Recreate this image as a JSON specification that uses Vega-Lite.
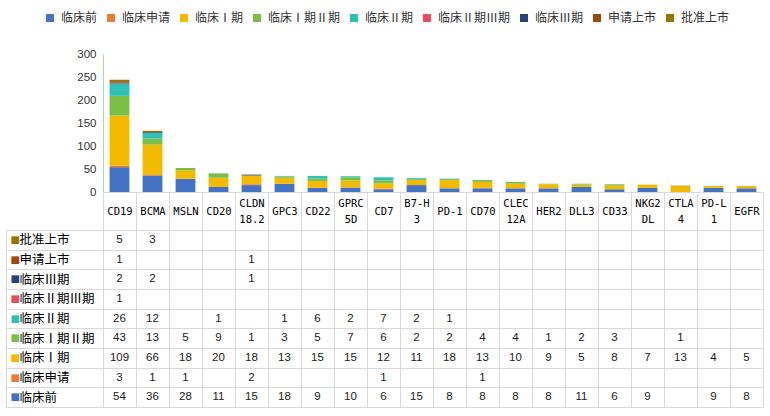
{
  "$schema": "https://vega.github.io/schema/vega-lite/v6.json",
  "background": "white",
  "padding": {"left": 5, "top": 12, "right": 5, "bottom": 5},
  "datasets": {
    "cells": [
      {"target": "CD19", "stage": "临床前", "count": 54},
      {"target": "CD19", "stage": "临床申请", "count": 3},
      {"target": "CD19", "stage": "临床Ⅰ期", "count": 109},
      {"target": "CD19", "stage": "临床Ⅰ期Ⅱ期", "count": 43},
      {"target": "CD19", "stage": "临床Ⅱ期", "count": 26},
      {"target": "CD19", "stage": "临床Ⅱ期Ⅲ期", "count": 1},
      {"target": "CD19", "stage": "临床Ⅲ期", "count": 2},
      {"target": "CD19", "stage": "申请上市", "count": 1},
      {"target": "CD19", "stage": "批准上市", "count": 5},
      {"target": "BCMA", "stage": "临床前", "count": 36},
      {"target": "BCMA", "stage": "临床申请", "count": 1},
      {"target": "BCMA", "stage": "临床Ⅰ期", "count": 66},
      {"target": "BCMA", "stage": "临床Ⅰ期Ⅱ期", "count": 13},
      {"target": "BCMA", "stage": "临床Ⅱ期", "count": 12},
      {"target": "BCMA", "stage": "临床Ⅲ期", "count": 2},
      {"target": "BCMA", "stage": "批准上市", "count": 3},
      {"target": "MSLN", "stage": "临床前", "count": 28},
      {"target": "MSLN", "stage": "临床申请", "count": 1},
      {"target": "MSLN", "stage": "临床Ⅰ期", "count": 18},
      {"target": "MSLN", "stage": "临床Ⅰ期Ⅱ期", "count": 5},
      {"target": "CD20", "stage": "临床前", "count": 11},
      {"target": "CD20", "stage": "临床Ⅰ期", "count": 20},
      {"target": "CD20", "stage": "临床Ⅰ期Ⅱ期", "count": 9},
      {"target": "CD20", "stage": "临床Ⅱ期", "count": 1},
      {"target": "CLDN18.2", "stage": "临床前", "count": 15},
      {"target": "CLDN18.2", "stage": "临床申请", "count": 2},
      {"target": "CLDN18.2", "stage": "临床Ⅰ期", "count": 18},
      {"target": "CLDN18.2", "stage": "临床Ⅰ期Ⅱ期", "count": 1},
      {"target": "CLDN18.2", "stage": "临床Ⅲ期", "count": 1},
      {"target": "CLDN18.2", "stage": "申请上市", "count": 1},
      {"target": "GPC3", "stage": "临床前", "count": 18},
      {"target": "GPC3", "stage": "临床Ⅰ期", "count": 13},
      {"target": "GPC3", "stage": "临床Ⅰ期Ⅱ期", "count": 3},
      {"target": "GPC3", "stage": "临床Ⅱ期", "count": 1},
      {"target": "CD22", "stage": "临床前", "count": 9},
      {"target": "CD22", "stage": "临床Ⅰ期", "count": 15},
      {"target": "CD22", "stage": "临床Ⅰ期Ⅱ期", "count": 5},
      {"target": "CD22", "stage": "临床Ⅱ期", "count": 6},
      {"target": "GPRC5D", "stage": "临床前", "count": 10},
      {"target": "GPRC5D", "stage": "临床Ⅰ期", "count": 15},
      {"target": "GPRC5D", "stage": "临床Ⅰ期Ⅱ期", "count": 7},
      {"target": "GPRC5D", "stage": "临床Ⅱ期", "count": 2},
      {"target": "CD7", "stage": "临床前", "count": 6},
      {"target": "CD7", "stage": "临床申请", "count": 1},
      {"target": "CD7", "stage": "临床Ⅰ期", "count": 12},
      {"target": "CD7", "stage": "临床Ⅰ期Ⅱ期", "count": 6},
      {"target": "CD7", "stage": "临床Ⅱ期", "count": 7},
      {"target": "B7-H3", "stage": "临床前", "count": 15},
      {"target": "B7-H3", "stage": "临床Ⅰ期", "count": 11},
      {"target": "B7-H3", "stage": "临床Ⅰ期Ⅱ期", "count": 2},
      {"target": "B7-H3", "stage": "临床Ⅱ期", "count": 2},
      {"target": "PD-1", "stage": "临床前", "count": 8},
      {"target": "PD-1", "stage": "临床Ⅰ期", "count": 18},
      {"target": "PD-1", "stage": "临床Ⅰ期Ⅱ期", "count": 2},
      {"target": "PD-1", "stage": "临床Ⅱ期", "count": 1},
      {"target": "CD70", "stage": "临床前", "count": 8},
      {"target": "CD70", "stage": "临床申请", "count": 1},
      {"target": "CD70", "stage": "临床Ⅰ期", "count": 13},
      {"target": "CD70", "stage": "临床Ⅰ期Ⅱ期", "count": 4},
      {"target": "CLEC12A", "stage": "临床前", "count": 8},
      {"target": "CLEC12A", "stage": "临床Ⅰ期", "count": 10},
      {"target": "CLEC12A", "stage": "临床Ⅰ期Ⅱ期", "count": 4},
      {"target": "HER2", "stage": "临床前", "count": 8},
      {"target": "HER2", "stage": "临床Ⅰ期", "count": 9},
      {"target": "HER2", "stage": "临床Ⅰ期Ⅱ期", "count": 1},
      {"target": "DLL3", "stage": "临床前", "count": 11},
      {"target": "DLL3", "stage": "临床Ⅰ期", "count": 5},
      {"target": "DLL3", "stage": "临床Ⅰ期Ⅱ期", "count": 2},
      {"target": "CD33", "stage": "临床前", "count": 6},
      {"target": "CD33", "stage": "临床Ⅰ期", "count": 8},
      {"target": "CD33", "stage": "临床Ⅰ期Ⅱ期", "count": 3},
      {"target": "NKG2DL", "stage": "临床前", "count": 9},
      {"target": "NKG2DL", "stage": "临床Ⅰ期", "count": 7},
      {"target": "CTLA4", "stage": "临床Ⅰ期", "count": 13},
      {"target": "CTLA4", "stage": "临床Ⅰ期Ⅱ期", "count": 1},
      {"target": "PD-L1", "stage": "临床前", "count": 9},
      {"target": "PD-L1", "stage": "临床Ⅰ期", "count": 4},
      {"target": "EGFR", "stage": "临床前", "count": 8},
      {"target": "EGFR", "stage": "临床Ⅰ期", "count": 5}
    ]
  },
  "bounds": "flush",
  "spacing": 38,
  "resolve": {"scale": {"x": "independent", "y": "independent"}},
  "vconcat": [
    {
      "width": 660,
      "height": 138,
      "data": {"name": "cells"},
      "transform": [
        {"calculate": "indexof(['临床前','临床申请','临床Ⅰ期','临床Ⅰ期Ⅱ期','临床Ⅱ期','临床Ⅱ期Ⅲ期','临床Ⅲ期','申请上市','批准上市'], datum.stage)", "as": "k"}
      ],
      "mark": {"type": "bar"},
      "encoding": {
        "x": {
          "field": "target", "type": "nominal",
          "sort": ["CD19","BCMA","MSLN","CD20","CLDN18.2","GPC3","CD22","GPRC5D","CD7","B7-H3","PD-1","CD70","CLEC12A","HER2","DLL3","CD33","NKG2DL","CTLA4","PD-L1","EGFR"],
          "scale": {"paddingInner": 0.4, "paddingOuter": 0.2},
          "axis": {"title": null, "labels": false, "ticks": false, "grid": false, "domainColor": "#d9d9d9"}
        },
        "y": {
          "field": "count", "type": "quantitative",
          "scale": {"domain": [0, 300], "nice": false},
          "axis": {
            "title": null, "values": [0, 50, 100, 150, 200, 250, 300],
            "ticks": false, "grid": false, "domainColor": "#a8dca0",
            "labelFont": "Liberation Sans", "labelFontSize": 11.5, "labelColor": "#333", "labelPadding": 7
          }
        },
        "color": {
          "field": "stage", "type": "nominal",
          "sort": ["临床前","临床申请","临床Ⅰ期","临床Ⅰ期Ⅱ期","临床Ⅱ期","临床Ⅱ期Ⅲ期","临床Ⅲ期","申请上市","批准上市"],
          "scale": {
            "domain": ["临床前","临床申请","临床Ⅰ期","临床Ⅰ期Ⅱ期","临床Ⅱ期","临床Ⅱ期Ⅲ期","临床Ⅲ期","申请上市","批准上市"],
            "range": ["#4472C4","#ED7D31","#F4BA00","#7BBF45","#2EC2B4","#EA4C5E","#264478","#9E480E","#997300"]
          },
          "legend": {
            "orient": "none", "direction": "horizontal", "legendX": -59, "legendY": -42,
            "title": null, "symbolType": "square", "symbolSize": 64, "symbolStrokeWidth": 0,
            "labelFont": "Noto Sans CJK SC", "labelFontSize": 12, "labelColor": "#333",
            "columnPadding": 7, "labelOffset": 5
          }
        },
        "order": {"field": "k", "type": "quantitative"}
      }
    },
    {
      "width": 660,
      "height": 177,
      "view": {"stroke": "#d9d9d9"},
      "data": {"name": "cells"},
      "layer": [
        {
          "mark": {"type": "text", "font": "Liberation Sans", "fontSize": 11.5, "color": "#1a1a1a"},
          "encoding": {
            "x": {
              "field": "target", "type": "nominal",
              "sort": ["CD19","BCMA","MSLN","CD20","CLDN18.2","GPC3","CD22","GPRC5D","CD7","B7-H3","PD-1","CD70","CLEC12A","HER2","DLL3","CD33","NKG2DL","CTLA4","PD-L1","EGFR"],
              "scale": {"paddingInner": 0, "paddingOuter": 0},
              "axis": {
                "title": null, "orient": "top", "labelAngle": 0, "domain": false,
                "grid": true, "gridColor": "#d9d9d9",
                "ticks": true, "tickSize": 38, "tickBand": "extent", "tickColor": "#d9d9d9",
                "labelPadding": {"condition": {"test": "length(datum.label) > 4", "value": -11}, "value": -19},
                "labelBaseline": "middle", "labelLineHeight": 16,
                "labelFont": "DejaVu Sans Mono", "labelFontSize": 10.5, "labelColor": "#000",
                "labelExpr": "length(datum.label) > 4 ? [substring(datum.label, 0, 4), substring(datum.label, 4)] : datum.label",
                "labelOverlap": false, "labelBound": false, "labelFlush": false
              }
            },
            "y": {
              "field": "stage", "type": "nominal",
              "sort": ["批准上市","申请上市","临床Ⅲ期","临床Ⅱ期Ⅲ期","临床Ⅱ期","临床Ⅰ期Ⅱ期","临床Ⅰ期","临床申请","临床前"],
              "scale": {"paddingInner": 0, "paddingOuter": 0},
              "axis": {
                "title": null, "orient": "left", "domain": false,
                "ticks": true, "tickSize": 97, "tickBand": "extent", "tickColor": "#d9d9d9",
                "grid": true, "gridColor": "#d9d9d9",
                "labelAlign": "left", "labelPadding": -13, "labelBaseline": "middle",
                "labelFont": "Noto Sans CJK SC", "labelFontSize": 12.5, "labelColor": "#000",
                "labelOverlap": false, "labelBound": false
              }
            },
            "text": {"field": "count", "type": "quantitative"}
          }
        },
        {
          "mark": {"type": "point", "opacity": 0},
          "encoding": {
            "y": {
              "field": "stage", "type": "nominal",
              "sort": ["批准上市","申请上市","临床Ⅲ期","临床Ⅱ期Ⅲ期","临床Ⅱ期","临床Ⅰ期Ⅱ期","临床Ⅰ期","临床申请","临床前"],
              "axis": {
                "title": null, "orient": "left", "offset": 97,
                "domain": true, "domainColor": "#d9d9d9", "ticks": false, "grid": false,
                "labelExpr": "'■'", "labelAlign": "left", "labelPadding": -4, "labelBaseline": "middle",
                "labelFont": "DejaVu Sans", "labelFontSize": 10,
                "labelColor": {
                  "condition": [
                    {"test": "datum.value === '临床前'", "value": "#4472C4"},
                    {"test": "datum.value === '临床申请'", "value": "#ED7D31"},
                    {"test": "datum.value === '临床Ⅰ期'", "value": "#F4BA00"},
                    {"test": "datum.value === '临床Ⅰ期Ⅱ期'", "value": "#7BBF45"},
                    {"test": "datum.value === '临床Ⅱ期'", "value": "#2EC2B4"},
                    {"test": "datum.value === '临床Ⅱ期Ⅲ期'", "value": "#EA4C5E"},
                    {"test": "datum.value === '临床Ⅲ期'", "value": "#264478"},
                    {"test": "datum.value === '申请上市'", "value": "#9E480E"}
                  ],
                  "value": "#997300"
                },
                "labelOverlap": false, "labelBound": false
              }
            }
          }
        }
      ],
      "resolve": {"axis": {"y": "independent"}}
    }
  ],
  "config": {
    "view": {"stroke": null},
    "font": "Noto Sans CJK SC"
  }
}
